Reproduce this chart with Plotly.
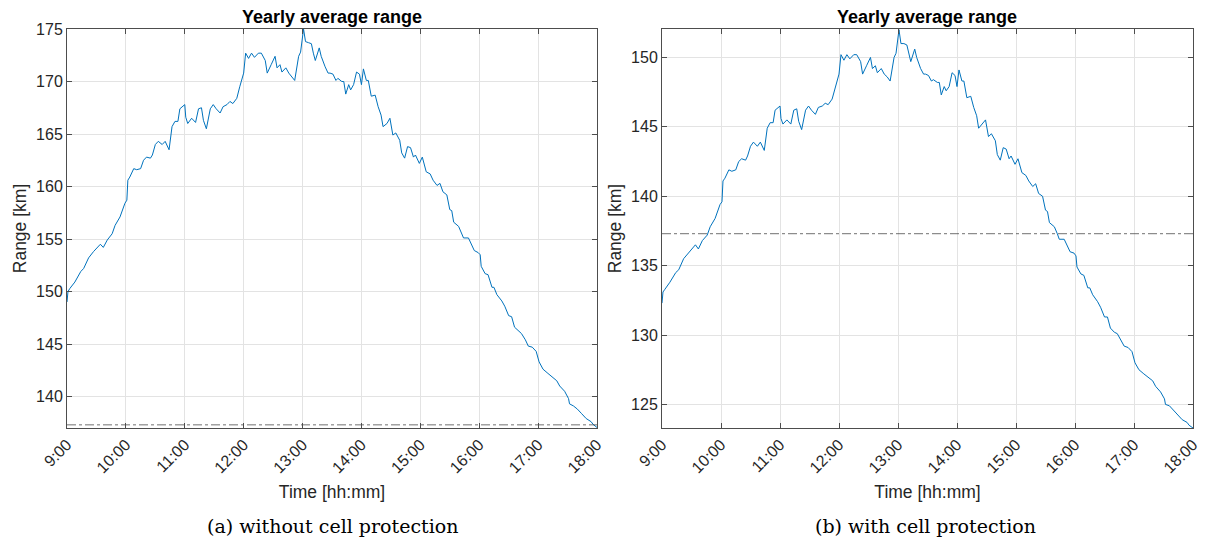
import plotly.graph_objects as go

# minutes after 9:00
minutes_a = [0, 1, 3, 8, 14, 17, 22, 27, 34, 37, 41, 46, 49, 54, 59, 61, 62, 64, 68, 71, 75, 78, 81, 85, 87,
             90, 93, 97, 100, 104, 107, 110, 113, 115, 120, 121, 123, 127, 131, 134, 137, 139, 142, 146, 149,
             152, 156, 159, 163, 166, 169, 173, 176, 180, 182, 185, 188, 191, 195, 198, 202, 204, 208, 212,
             214, 217, 219, 223, 226, 229, 232, 236, 238, 241, 243, 246, 249, 251, 253, 257, 259, 263, 266,
             268, 271, 274, 276, 280, 282, 284, 287, 289, 292, 295, 298, 300, 302, 305, 307, 310, 314, 317,
             320, 322, 326, 329, 332, 335, 339, 341, 344, 347, 350, 353, 355, 359, 362, 366, 370, 373, 377,
             380, 383, 387, 390, 392, 394, 399, 402, 404, 409, 411, 415, 419, 421, 422, 426, 429, 433, 435,
             438, 443, 446, 450, 453, 456, 460, 463, 467, 470, 474, 478, 481, 485, 490, 495, 499, 502, 507,
             511, 512, 516, 520, 524, 529, 534, 536, 540]

range_a = [149.0, 150.0, 150.3, 150.9, 151.9, 152.2, 153.2, 153.8, 154.5, 154.2, 154.9, 155.5, 156.3, 157.1,
           158.4, 158.7, 160.6, 160.9, 161.7, 161.6, 161.7, 162.5, 162.8, 162.7, 163.0, 164.0, 164.3, 164.0,
           164.3, 163.5, 165.7, 166.2, 166.2, 167.4, 167.8, 166.6, 166.0, 166.5, 166.1, 167.4, 167.5, 166.3,
           165.5, 167.4, 167.8, 167.4, 167.0, 167.6, 167.8, 168.1, 167.9, 168.4, 169.5, 170.8, 172.7, 172.2,
           172.7, 172.3, 172.7, 172.7, 172.0, 170.8, 171.6, 172.4, 171.3, 171.6, 170.9, 171.3, 170.8, 170.5,
           170.1, 172.4, 172.8, 175.0, 173.8, 173.7, 173.6, 172.7, 172.0, 173.2, 172.4, 171.4, 170.8, 170.8,
           170.7, 170.1, 170.3, 170.0, 170.0, 168.8, 169.7, 169.2, 169.7, 170.9, 170.7, 169.7, 171.2, 170.1,
           170.1, 168.6, 168.7, 167.6, 166.8, 165.7, 166.0, 166.5, 164.9, 165.1, 164.4, 163.2, 162.7, 163.8,
           163.7, 162.8, 163.0, 162.2, 162.8, 161.4, 161.2, 160.6, 160.1, 160.3, 159.5, 159.2, 157.8, 157.7,
           156.6, 156.2, 155.6, 155.1, 155.1, 154.7, 153.9, 153.7, 153.5, 152.4, 151.7, 151.6, 150.4, 150.4,
           149.7, 149.1, 148.6, 147.7, 147.6, 146.6, 146.2, 146.0, 145.4, 144.8, 144.7, 144.3, 143.3, 142.6,
           142.2, 141.8, 141.5, 141.0, 140.5, 139.8, 139.3, 139.1, 138.8, 138.4, 137.9, 137.6, 137.35, 137.05]

minutes_b = minutes_a

range_b = [132.3, 133.1, 133.3, 133.8, 134.5, 134.7, 135.5, 135.9, 136.5, 136.2, 136.8, 137.2, 137.8, 138.4,
           139.4, 139.6, 141.1, 141.3, 141.9, 141.8, 141.9, 142.5, 142.7, 142.6, 142.9, 143.6, 143.9, 143.6,
           143.9, 143.3, 144.9, 145.3, 145.3, 146.2, 146.5, 145.6, 145.2, 145.5, 145.2, 146.2, 146.3, 145.4,
           144.8, 146.2, 146.5, 146.2, 145.9, 146.4, 146.5, 146.7, 146.6, 147.0, 147.8, 148.8, 150.2, 149.8,
           150.2, 149.9, 150.2, 150.2, 149.7, 148.8, 149.4, 150.0, 149.2, 149.4, 148.9, 149.2, 148.8, 148.6,
           148.3, 150.0, 150.3, 152.0, 151.0, 151.0, 150.9, 150.2, 149.7, 150.6, 150.0, 149.2, 148.8, 148.8,
           148.7, 148.3, 148.4, 148.2, 148.2, 147.3, 147.9, 147.6, 147.9, 148.9, 148.7, 147.9, 149.1, 148.3,
           148.3, 147.1, 147.2, 146.4, 145.8, 144.9, 145.2, 145.5, 144.3, 144.5, 144.0, 143.0, 142.6, 143.5,
           143.4, 142.7, 142.9, 142.3, 142.7, 141.7, 141.5, 141.1, 140.7, 140.9, 140.2, 140.0, 139.0, 138.9,
           138.1, 137.8, 137.3, 136.9, 136.9, 136.6, 136.0, 135.9, 135.7, 134.9, 134.4, 134.3, 133.4, 133.4,
           132.9, 132.4, 132.0, 131.3, 131.3, 130.5, 130.2, 130.1, 129.6, 129.2, 129.1, 128.8, 128.0, 127.5,
           127.2, 126.9, 126.7, 126.3, 125.9, 125.4, 125.0, 124.9, 124.6, 124.3, 123.9, 123.7, 123.5, 123.3]

threshold_a = 137.3
threshold_b = 137.3

tick_minutes = [0, 60, 120, 180, 240, 300, 360, 420, 480, 540]
tick_labels = ["9:00", "10:00", "11:00", "12:00", "13:00", "14:00", "15:00", "16:00", "17:00", "18:00"]
yticks_a = [140, 145, 150, 155, 160, 165, 170, 175]
yticks_b = [125, 130, 135, 140, 145, 150]

title_text = "Yearly average range"
caption_a = "(a) without cell protection"
caption_b = "(b) with cell protection"

W, H = 1210, 539
LINE = "#0072BD"
AX = "#4d4d4d"
GRID = "#e3e3e3"
SANS = "Liberation Sans, Arial, sans-serif"
SERIF = "DejaVu Serif, serif"

fig = go.Figure()
fig.add_trace(go.Scatter(x=minutes_a, y=range_a, mode="lines", line=dict(color=LINE, width=1),
                         xaxis="x", yaxis="y", showlegend=False))
fig.add_trace(go.Scatter(x=[tick_minutes[0], tick_minutes[-1]], y=[threshold_a, threshold_a], mode="lines",
                         line=dict(color="#333333", width=0.7, dash="dashdot"),
                         xaxis="x", yaxis="y", showlegend=False))
fig.add_trace(go.Scatter(x=minutes_b, y=range_b, mode="lines", line=dict(color=LINE, width=1),
                         xaxis="x2", yaxis="y2", showlegend=False))
fig.add_trace(go.Scatter(x=[tick_minutes[0], tick_minutes[-1]], y=[threshold_b, threshold_b], mode="lines",
                         line=dict(color="#333333", width=0.7, dash="dashdot"),
                         xaxis="x2", yaxis="y2", showlegend=False))

ydom = [1 - 428 / H, 1 - 29 / H]
xdom_a = [67 / W, 597 / W]
xdom_b = [662 / W, 1193 / W]

common_x = dict(tickmode="array", tickvals=tick_minutes, ticktext=tick_labels, tickangle=-45,
                range=[0, 540], showgrid=True, gridcolor=GRID, gridwidth=1, zeroline=False,
                showline=True, linecolor=AX, linewidth=1, mirror="ticks", ticks="inside", ticklen=5,
                tickcolor=AX, tickfont=dict(family=SANS, size=16, color="#262626"), automargin=False,
                title=dict(text="Time [hh:mm]", font=dict(family=SANS, size=17.5, color="#262626"), standoff=10))
common_y = dict(showgrid=True, gridcolor=GRID, gridwidth=1, zeroline=False, automargin=False,
                showline=True, linecolor=AX, linewidth=1, mirror="ticks", ticks="inside", ticklen=5,
                tickcolor=AX, tickfont=dict(family=SANS, size=16, color="#262626"), tickmode="array",
                title=dict(text="Range [km]", font=dict(family=SANS, size=17.5, color="#262626"), standoff=4))

fig.update_layout(
    width=W, height=H, margin=dict(l=0, r=0, t=0, b=0),
    paper_bgcolor="white", plot_bgcolor="white",
    xaxis=dict(domain=xdom_a, anchor="y", **common_x),
    yaxis=dict(domain=ydom, anchor="x", range=[137.0, 175.0], tickvals=yticks_a, **common_y),
    xaxis2=dict(domain=xdom_b, anchor="y2", **common_x),
    yaxis2=dict(domain=ydom, anchor="x2", range=[123.3, 152.05], tickvals=yticks_b, **common_y),
    annotations=[
        dict(text="<b>" + title_text + "</b>", x=(xdom_a[0] + xdom_a[1]) / 2, y=1 - 17 / H, xref="paper",
             yref="paper", showarrow=False, font=dict(family=SANS, size=18, color="black"),
             xanchor="center", yanchor="middle"),
        dict(text="<b>" + title_text + "</b>", x=(xdom_b[0] + xdom_b[1]) / 2, y=1 - 17 / H, xref="paper",
             yref="paper", showarrow=False, font=dict(family=SANS, size=18, color="black"),
             xanchor="center", yanchor="middle"),
        dict(text=caption_a, x=332 / W, y=1 - 526 / H, xref="paper", yref="paper", showarrow=False,
             font=dict(family=SERIF, size=19, color="black"), xanchor="center", yanchor="middle"),
        dict(text=caption_b, x=925 / W, y=1 - 526 / H, xref="paper", yref="paper", showarrow=False,
             font=dict(family=SERIF, size=19, color="black"), xanchor="center", yanchor="middle"),
    ],
)

fig.write_html("out.html")
